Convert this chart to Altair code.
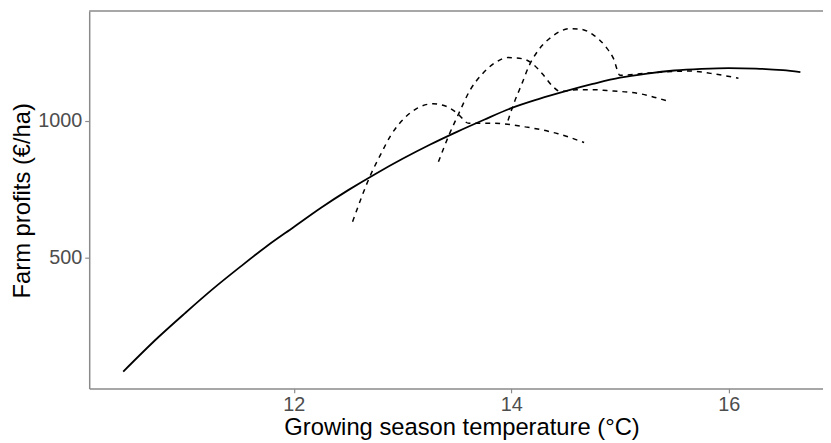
import altair as alt
import pandas as pd

# Long-run (solid) profit curve
solid_x = [10.43, 10.75, 11.0, 11.25, 11.5, 11.75, 12.0, 12.25, 12.5, 12.75, 13.0, 13.25,
           13.5, 13.75, 14.0, 14.25, 14.5, 14.75, 15.0, 15.25, 15.5, 15.75, 16.0, 16.25,
           16.5, 16.66]
solid_y = [87, 211, 300, 386, 466, 543, 613, 683, 747, 806, 861, 912,
           959, 1003, 1045, 1078, 1107, 1133, 1156, 1171, 1182, 1188, 1191, 1189,
           1183, 1176]

# Short-run (dashed) curves
d1_x = [12.54, 12.71, 12.80, 12.89, 13.02, 13.14, 13.28, 13.40, 13.50, 13.61, 13.82, 14.13, 14.43, 14.67]
d1_y = [632, 806, 878, 945, 1010, 1046, 1061, 1052, 1028, 990, 990, 977, 952, 920]

d2_x = [13.33, 13.43, 13.52, 13.62, 13.73, 13.85, 13.97, 14.10, 14.19, 14.29, 14.38, 14.45,
        14.60, 14.76, 14.88, 15.19, 15.46]
d2_y = [850, 950, 1028, 1110, 1168, 1210, 1229, 1225, 1208, 1168, 1125, 1106,
        1112, 1112, 1109, 1097, 1068]

d3_x = [13.97, 14.02, 14.10, 14.16, 14.25, 14.37, 14.54, 14.64, 14.76, 14.87, 14.94, 15.0,
        15.3, 15.64, 15.89, 16.09]
d3_y = [1000, 1058, 1136, 1196, 1256, 1304, 1334, 1332, 1310, 1268, 1226, 1165,
        1174, 1180, 1168, 1154]

x_ticks = [12, 14, 16]
y_ticks = [500, 1000]

solid_df = pd.DataFrame({"x": solid_x, "y": solid_y, "o": range(len(solid_x))})
rows = []
for name, xs, ys in [("d1", d1_x, d1_y), ("d2", d2_x, d2_y), ("d3", d3_x, d3_y)]:
    for i, (a, b) in enumerate(zip(xs, ys)):
        rows.append({"x": a, "y": b, "s": name, "o": i})
dash_df = pd.DataFrame(rows)

W, H = 741, 381
FONT = "Liberation Sans"
GRAY = "#8a8a8a"

xscale = alt.Scale(domain=[10.117, 16.868], nice=False, zero=False)
yscale = alt.Scale(domain=[26, 1398], nice=False, zero=False)

xaxis = alt.Axis(values=x_ticks, format="d", grid=False, domainColor=GRAY, domainWidth=1.5,
                 tickColor=GRAY, tickWidth=1.2, tickSize=4.5, labelFont=FONT,
                 labelFontSize=20, labelColor="#4d4d4d", labelPadding=2,
                 title="Growing season temperature (°C)", titleFont=FONT,
                 titleFontSize=24, titleFontWeight="normal", titleColor="black",
                 titleX=376, titleY=47, titleBaseline="alphabetic", titleAlign="center")
yaxis = alt.Axis(values=y_ticks, format="d", grid=False, domainColor=GRAY, domainWidth=1.5,
                 tickColor=GRAY, tickWidth=1.2, tickSize=4.5, labelFont=FONT,
                 labelFontSize=20, labelColor="#4d4d4d", labelPadding=3,
                 title="Farm profits (€/ha)", titleFont=FONT,
                 titleFontSize=24, titleFontWeight="normal", titleColor="black",
                 titleX=-60, titleY=191, titleBaseline="alphabetic", titleAlign="center",
                 titleAngle=270)

solid = alt.Chart(solid_df).mark_line(color="black", strokeWidth=1.8, interpolate="monotone").encode(
    x=alt.X("x:Q", scale=xscale, axis=xaxis),
    y=alt.Y("y:Q", scale=yscale, axis=yaxis),
    order="o:Q",
)
dashed = alt.Chart(dash_df).mark_line(color="black", strokeWidth=1.5, strokeDash=[5, 5],
                                      interpolate="monotone").encode(
    x=alt.X("x:Q", scale=xscale),
    y=alt.Y("y:Q", scale=yscale),
    detail="s:N",
    order="o:Q",
)
top_border = alt.Chart(pd.DataFrame({"a": [0]})).mark_rule(color=GRAY, strokeWidth=1.5).encode(
    x=alt.value(0), x2=alt.value(W), y=alt.value(0)
)

chart = alt.layer(dashed, solid, top_border).properties(
    width=W, height=H,
    autosize=alt.AutoSizeParams(type="none"),
    padding={"left": 82, "top": 1, "right": 0, "bottom": 52},
    background="white",
).configure_view(stroke=None)

chart.save("out.html", embed_options={"renderer": "svg", "actions": False})
